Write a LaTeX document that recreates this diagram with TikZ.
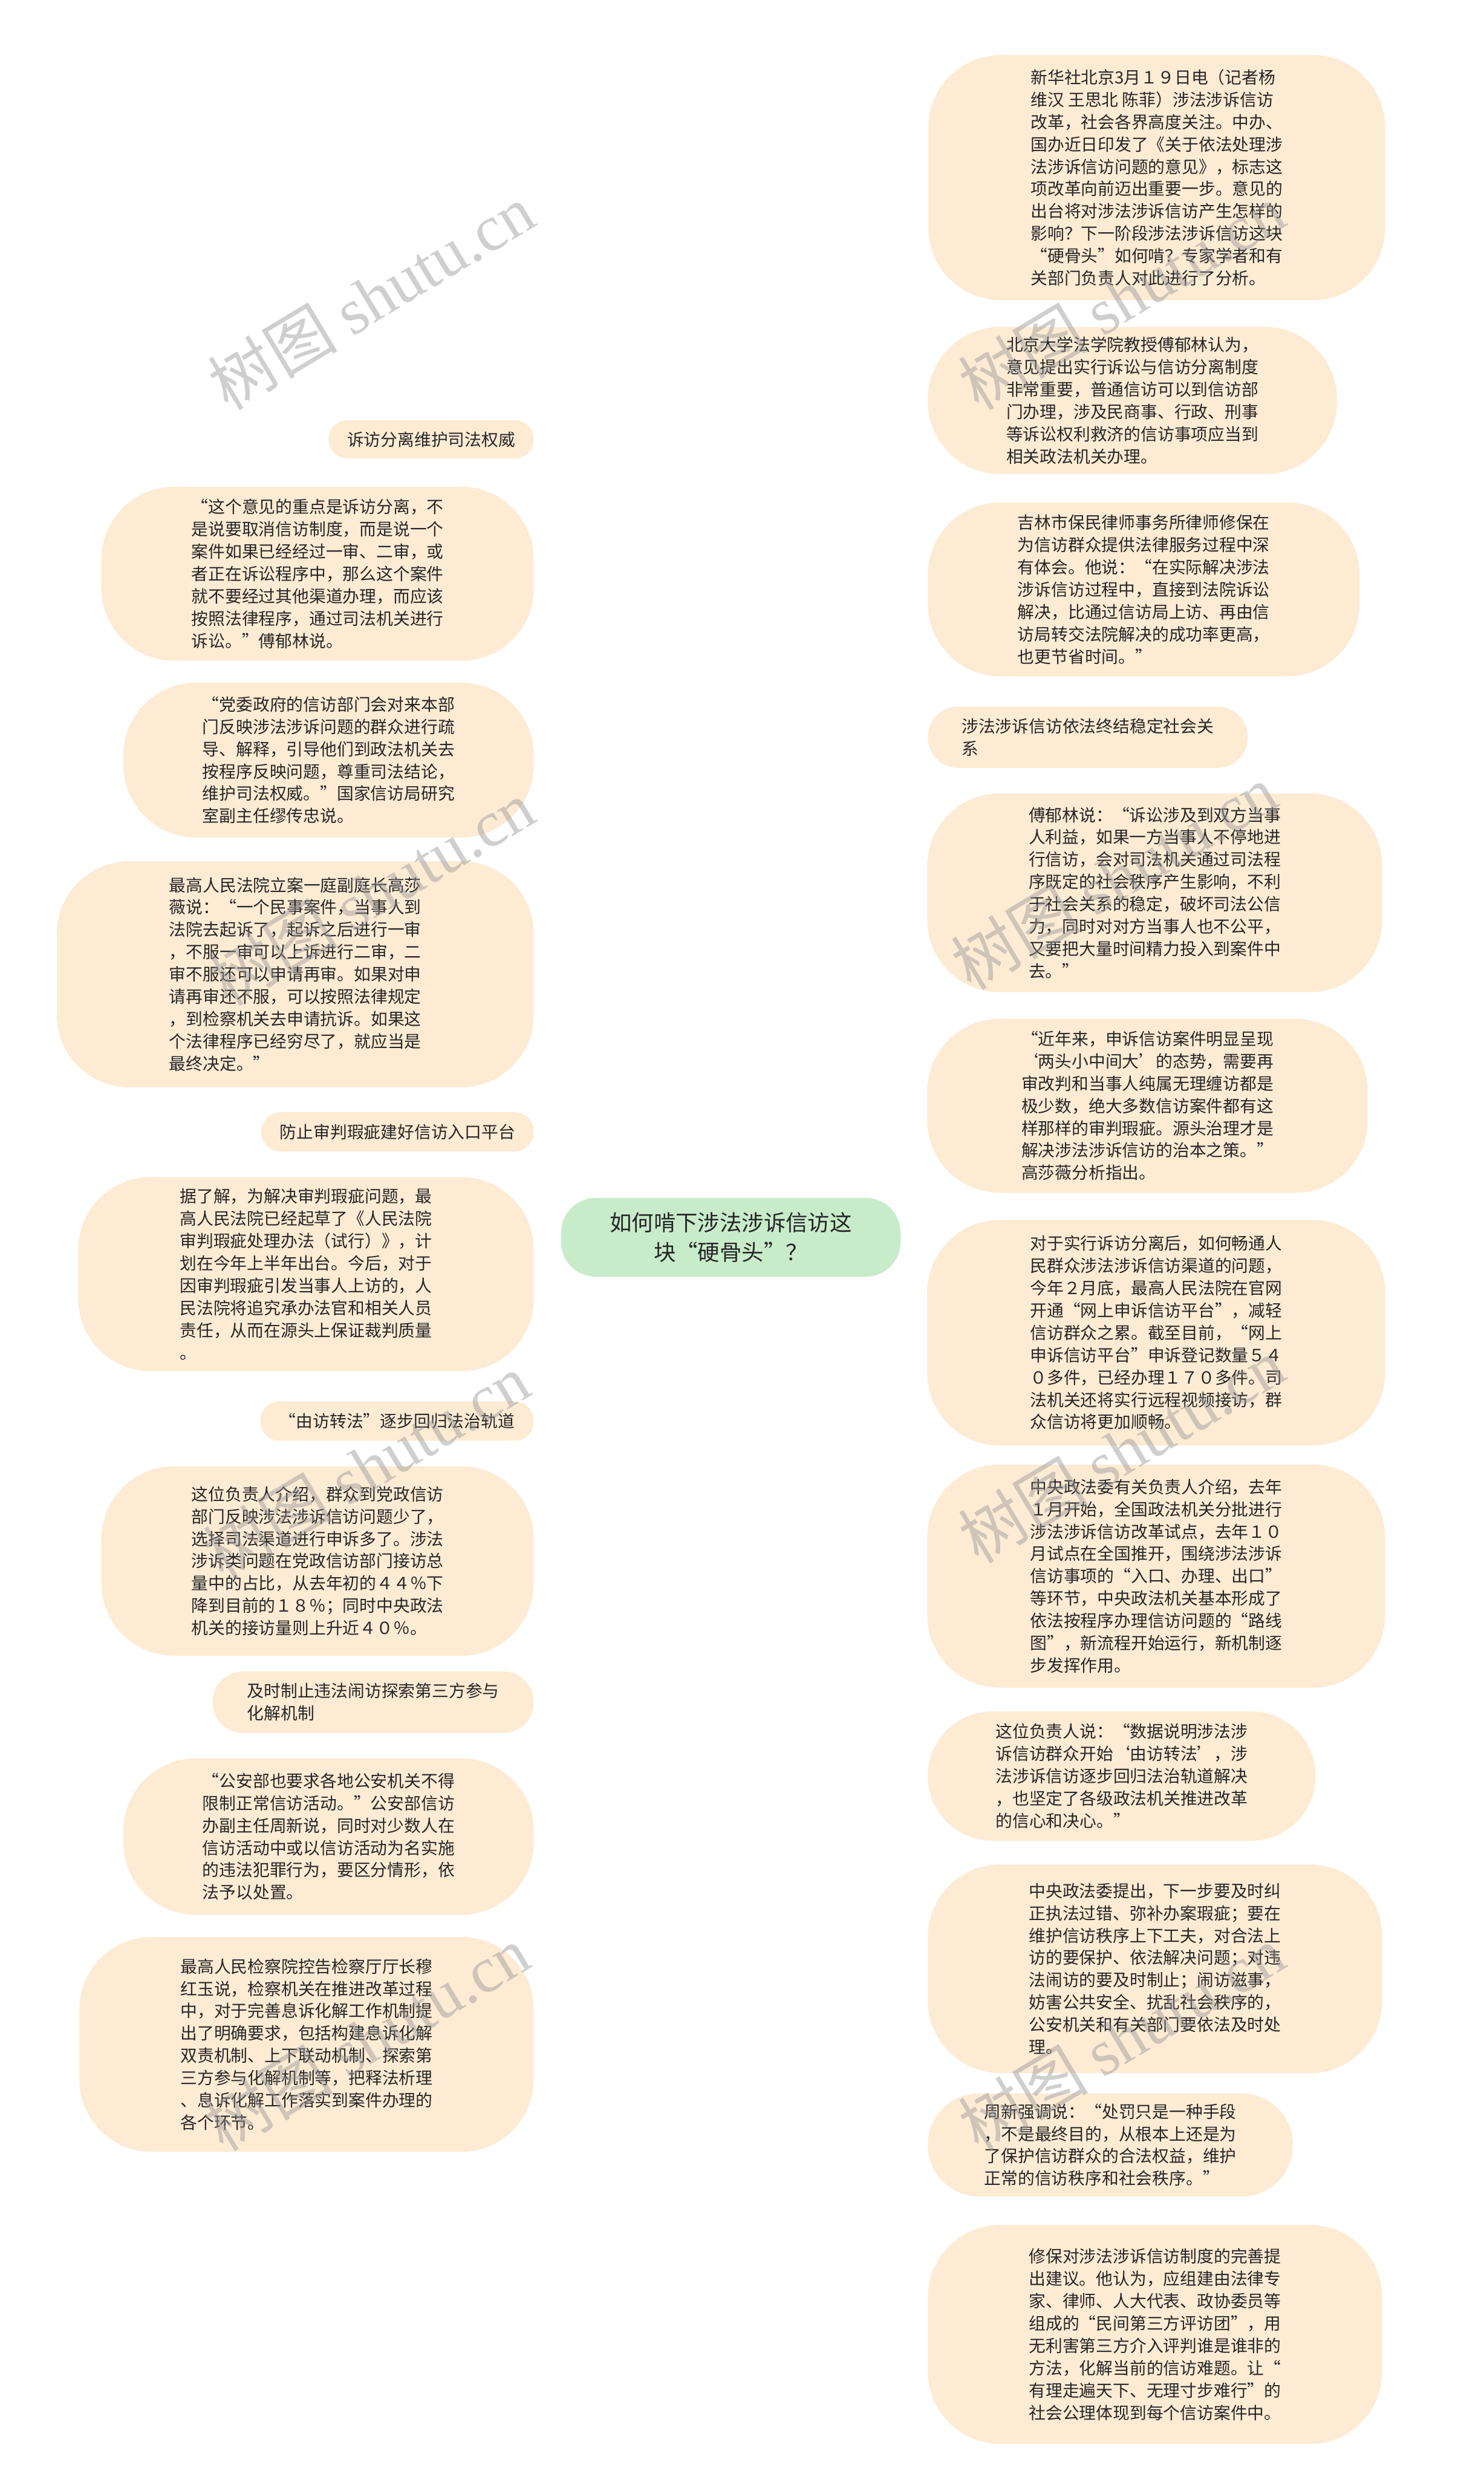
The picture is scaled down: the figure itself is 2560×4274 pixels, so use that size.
\documentclass[tikz,border=0pt]{standalone}
\usepackage{fontspec}
\setmainfont{Noto Sans CJK SC}
\newfontfamily\cjk{Noto Sans CJK SC}
\newfontfamily\wmserif{Liberation Serif}
\usetikzlibrary{calc}
\definecolor{peach}{RGB}{253,235,212}
\definecolor{rootg}{RGB}{200,236,202}
\definecolor{linkg}{RGB}{176,222,192}
\definecolor{txt}{RGB}{38,38,38}
\definecolor{wm}{RGB}{150,150,150}
\pgfdeclarelayer{bg}
\pgfdeclarelayer{top}
\pgfsetlayers{bg,main,top}
\newcommand\mmleaf[7]{%
 \pgfmathsetmacro\mmW{(#4-(#2))*0.5}%
 \pgfmathsetmacro\mmH{(#5-(#3))*0.5}%
 \pgfmathsetmacro\mmR{min(#6,(#5-(#3))/2-0.5)*0.5}%
 \pgfmathsetmacro\mmX{(#2+#4)/2}%
 \pgfmathsetmacro\mmY{(#3+#5)/2}%
 \node[leaf, minimum width=\mmW pt, minimum height=\mmH pt, rounded corners=\mmR pt] (#1) at (\mmX,\mmY) {#7};}
\newcommand\mmconn[2]{%
 \coordinate (mmt) at ($(root.center)!0.25!(#1.#2)$);
 \draw[conn] (root.center) .. controls (mmt |- #1.#2) .. (#1.#2);}
\begin{document}
\begin{tikzpicture}[x=0.5pt,y=-0.5pt,
 leaf/.style={fill=peach, inner sep=0pt, align=left, text=txt, font=\fontsize{14.5pt}{19.25pt}\selectfont},
 rootbox/.style={fill=rootg, inner sep=0pt, align=center, text=txt, font=\fontsize{19pt}{26pt}\selectfont, rounded corners=30pt, minimum width=293pt, minimum height=68pt},
 conn/.style={draw=linkg, line width=1.3pt},
 wmark/.style={text=wm, opacity=0.45, rotate=31, inner sep=0pt, font=\fontsize{56pt}{60pt}\selectfont}]
\fill[white] (0,0) rectangle (2560,4274);
\useasboundingbox (0,0) rectangle (2560,4274);

\node[rootbox] (root) at (1261,2135) {如何啃下涉法涉诉信访这\\块“硬骨头”？};

% right side
\mmleaf{r1}{1602}{95}{2390}{518}{125}{新华社北京3月１９日电（记者杨\\维汉 王思北 陈菲）涉法涉诉信访\\改革，社会各界高度关注。中办、\\国办近日印发了《关于依法处理涉\\法涉诉信访问题的意见》，标志这\\项改革向前迈出重要一步。意见的\\出台将对涉法涉诉信访产生怎样的\\影响？下一阶段涉法涉诉信访这块\\“硬骨头”如何啃？专家学者和有\\关部门负责人对此进行了分析。}
\mmleaf{r2}{1601}{564}{2307}{818}{125}{北京大学法学院教授傅郁林认为，\\意见提出实行诉讼与信访分离制度\\非常重要，普通信访可以到信访部\\门办理，涉及民商事、行政、刑事\\等诉讼权利救济的信访事项应当到\\相关政法机关办理。}
\mmleaf{r3}{1601}{867}{2346}{1167}{125}{吉林市保民律师事务所律师修保在\\为信访群众提供法律服务过程中深\\有体会。他说：“在实际解决涉法\\涉诉信访过程中，直接到法院诉讼\\解决，比通过信访局上访、再由信\\访局转交法院解决的成功率更高，\\也更节省时间。”}
\mmleaf{r4}{1601}{1219}{2153}{1325}{125}{涉法涉诉信访依法终结稳定社会关\\系}
\mmleaf{r5}{1600}{1369}{2385}{1712}{125}{傅郁林说：“诉讼涉及到双方当事\\人利益，如果一方当事人不停地进\\行信访，会对司法机关通过司法程\\序既定的社会秩序产生影响，不利\\于社会关系的稳定，破坏司法公信\\力，同时对对方当事人也不公平，\\又要把大量时间精力投入到案件中\\去。”}
\mmleaf{r6}{1600}{1758}{2360}{2058}{125}{“近年来，申诉信访案件明显呈现\\‘两头小中间大’的态势，需要再\\审改判和当事人纯属无理缠访都是\\极少数，绝大多数信访案件都有这\\样那样的审判瑕疵。源头治理才是\\解决涉法涉诉信访的治本之策。”\\高莎薇分析指出。}
\mmleaf{r7}{1600}{2105}{2390}{2494}{125}{对于实行诉访分离后，如何畅通人\\民群众涉法涉诉信访渠道的问题，\\今年２月底，最高人民法院在官网\\开通“网上申诉信访平台”，减轻\\信访群众之累。截至目前，“网上\\申诉信访平台”申诉登记数量５４\\０多件，已经办理１７０多件。司\\法机关还将实行远程视频接访，群\\众信访将更加顺畅。}
\mmleaf{r8}{1600}{2527}{2390}{2912}{125}{中央政法委有关负责人介绍，去年\\１月开始，全国政法机关分批进行\\涉法涉诉信访改革试点，去年１０\\月试点在全国推开，围绕涉法涉诉\\信访事项的“入口、办理、出口”\\等环节，中央政法机关基本形成了\\依法按程序办理信访问题的“路线\\图”，新流程开始运行，新机制逐\\步发挥作用。}
\mmleaf{r9}{1601}{2953}{2270}{3176}{125}{这位负责人说：“数据说明涉法涉\\诉信访群众开始‘由访转法’，涉\\法涉诉信访逐步回归法治轨道解决\\，也坚定了各级政法机关推进改革\\的信心和决心。”}
\mmleaf{r10}{1601}{3217}{2385}{3577}{125}{中央政法委提出，下一步要及时纠\\正执法过错、弥补办案瑕疵；要在\\维护信访秩序上下工夫，对合法上\\访的要保护、依法解决问题；对违\\法闹访的要及时制止；闹访滋事，\\妨害公共安全、扰乱社会秩序的，\\公安机关和有关部门要依法及时处\\理。}
\mmleaf{r11}{1601}{3612}{2231}{3790}{125}{周新强调说：“处罚只是一种手段\\，不是最终目的，从根本上还是为\\了保护信访群众的合法权益，维护\\正常的信访秩序和社会秩序。”}
\mmleaf{r12}{1601}{3839}{2385}{4217}{125}{修保对涉法涉诉信访制度的完善提\\出建议。他认为，应组建由法律专\\家、律师、人大代表、政协委员等\\组成的“民间第三方评访团”，用\\无利害第三方介入评判谁是谁非的\\方法，化解当前的信访难题。让“\\有理走遍天下、无理寸步难行”的\\社会公理体现到每个信访案件中。}

% left side
\mmleaf{l1}{567}{725}{921}{791}{125}{诉访分离维护司法权威}
\mmleaf{l2}{175}{840}{921}{1140}{125}{“这个意见的重点是诉访分离，不\\是说要取消信访制度，而是说一个\\案件如果已经经过一审、二审，或\\者正在诉讼程序中，那么这个案件\\就不要经过其他渠道办理，而应该\\按照法律程序，通过司法机关进行\\诉讼。”傅郁林说。}
\mmleaf{l3}{213}{1178}{921}{1445}{125}{“党委政府的信访部门会对来本部\\门反映涉法涉诉问题的群众进行疏\\导、解释，引导他们到政法机关去\\按程序反映问题，尊重司法结论，\\维护司法权威。”国家信访局研究\\室副主任缪传忠说。}
\mmleaf{l4}{98}{1486}{921}{1876}{125}{最高人民法院立案一庭副庭长高莎\\薇说：“一个民事案件，当事人到\\法院去起诉了，起诉之后进行一审\\，不服一审可以上诉进行二审，二\\审不服还可以申请再审。如果对申\\请再审还不服，可以按照法律规定\\，到检察机关去申请抗诉。如果这\\个法律程序已经穷尽了，就应当是\\最终决定。”}
\mmleaf{l5}{451}{1919}{921}{1987}{125}{防止审判瑕疵建好信访入口平台}
\mmleaf{l6}{135}{2031}{921}{2366}{125}{据了解，为解决审判瑕疵问题，最\\高人民法院已经起草了《人民法院\\审判瑕疵处理办法（试行）》，计\\划在今年上半年出台。今后，对于\\因审判瑕疵引发当事人上访的，人\\民法院将追究承办法官和相关人员\\责任，从而在源头上保证裁判质量\\。}
\mmleaf{l7}{449}{2418}{921}{2486}{125}{“由访转法”逐步回归法治轨道}
\mmleaf{l8}{175}{2530}{921}{2857}{125}{这位负责人介绍，群众到党政信访\\部门反映涉法涉诉信访问题少了，\\选择司法渠道进行申诉多了。涉法\\涉诉类问题在党政信访部门接访总\\量中的占比，从去年初的４４％下\\降到目前的１８％；同时中央政法\\机关的接访量则上升近４０％。}
\mmleaf{l9}{367}{2884}{921}{2990}{125}{及时制止违法闹访探索第三方参与\\化解机制}
\mmleaf{l10}{213}{3034}{921}{3304}{125}{“公安部也要求各地公安机关不得\\限制正常信访活动。”公安部信访\\办副主任周新说，同时对少数人在\\信访活动中或以信访活动为名实施\\的违法犯罪行为，要区分情形，依\\法予以处置。}
\mmleaf{l11}{137}{3342}{921}{3713}{125}{最高人民检察院控告检察厅厅长穆\\红玉说，检察机关在推进改革过程\\中，对于完善息诉化解工作机制提\\出了明确要求，包括构建息诉化解\\双责机制、上下联动机制、探索第\\三方参与化解机制等，把释法析理\\、息诉化解工作落实到案件办理的\\各个环节。}

\begin{pgfonlayer}{bg}
\foreach \n in {r1,r2,r3,r4,r5,r6,r7,r8,r9,r10,r11,r12}{\mmconn{\n}{west}}
\foreach \n in {l1,l2,l3,l4,l5,l6,l7,l8,l9,l10,l11}{\mmconn{\n}{east}}
\end{pgfonlayer}

\begin{pgfonlayer}{top}
\foreach \wx/\wy [count=\i] in {640/512,1935/512,640/1540,1922/1513,632/2530,1935/2502,632/3517,1935/3517}{
 \node[wmark] (wm\i) at (\wx,\wy) {\cjk 树图 \wmserif shutu.cn};}
\end{pgfonlayer}
\end{tikzpicture}
\end{document}
